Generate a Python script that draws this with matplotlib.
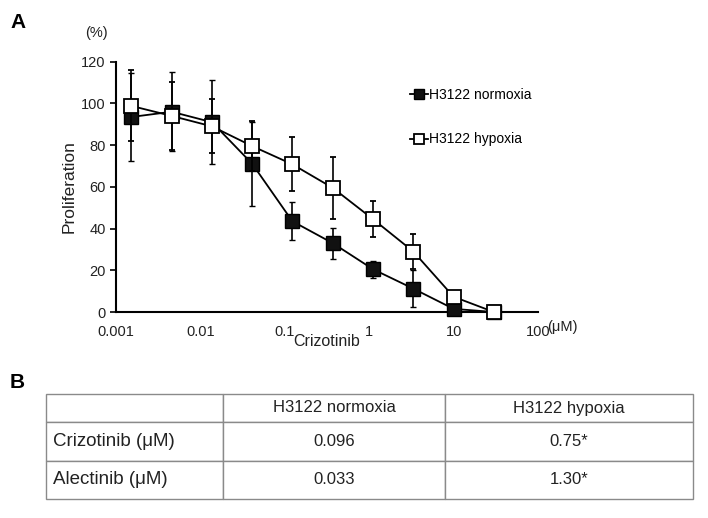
import matplotlib
matplotlib.use('Agg')
import matplotlib.pyplot as plt
from matplotlib.lines import Line2D

plt.rcParams['font.family'] = ['Liberation Sans', 'DejaVu Sans']

# Crizotinib concentrations (uM), 3-fold dilutions
conc = [0.00152, 0.00457, 0.0137, 0.0412, 0.123, 0.370, 1.11, 3.33, 10, 30]
normoxia = [93.5, 96, 91, 71, 43.5, 33, 20.5, 11.2, 1.5, 0]
normoxia_err = [21, 19, 20, 20, 9, 7.5, 4, 9, 1, 0]
hypoxia = [98.8, 94, 89, 79.5, 70.8, 59.5, 44.5, 29, 7.3, 0]
hypoxia_err = [17, 16.5, 13, 12, 13, 15, 8.7, 8.5, 1, 0]

xticks = [0.001, 0.01, 0.1, 1, 10, 100]
xtick_labels = ['0.001', '0.01', '0.1', '1', '10', '100']

# IC50 table
table_header = ['', 'H3122 normoxia', 'H3122 hypoxia']
drugs = ['Crizotinib (μM)', 'Alectinib (μM)']
ic50_normoxia = ['0.096', '0.033']
ic50_hypoxia = ['0.75*', '1.30*']

W, H = 708, 518
fig = plt.figure(figsize=(W / 100, H / 100), dpi=100)
txt_col = '#222222'

# ---- panel A ----
ax = fig.add_axes([116 / W, 1 - 312 / H, (538 - 116) / W, (312 - 61.7) / H])
ax.errorbar(conc, normoxia, yerr=normoxia_err, color='black', lw=1.3,
            marker='s', ms=10.5, mfc='#111111', mec='black', mew=1,
            elinewidth=1.2, capsize=2, capthick=1.2, zorder=3, clip_on=False)
ax.errorbar(conc, hypoxia, yerr=hypoxia_err, color='black', lw=1.3,
            marker='s', ms=10.5, mfc='white', mec='black', mew=1.3,
            elinewidth=1.2, capsize=2, capthick=1.2, zorder=4, clip_on=False)

ax.set_xscale('log')
ax.set_xlim(0.001, 100)
ax.set_ylim(0, 120)
ax.set_xticks(xticks)
ax.set_xticklabels(xtick_labels)
ax.minorticks_off()
ax.set_yticks(range(0, 121, 20))
ax.tick_params(axis='x', length=0, pad=9, labelsize=10.5, labelcolor=txt_col)
ax.tick_params(axis='y', length=4, width=1.2, labelsize=10.5, labelcolor=txt_col)
for s in ['top', 'right']:
    ax.spines[s].set_visible(False)
for s in ['left', 'bottom']:
    ax.spines[s].set_linewidth(1.5)

ax.set_ylabel('Proliferation', fontsize=12.5, color=txt_col, labelpad=3)
ax.set_xlabel('Crizotinib', fontsize=11.5, color=txt_col, labelpad=-3)
fig.text(547 / W, 1 - 327 / H, '(μM)', fontsize=10.5, color=txt_col, va='center', ha='left')
fig.text(96 / W, 1 - 33 / H, '(%)', fontsize=10.5, color=txt_col, va='center', ha='center')

handles = [
    Line2D([], [], color='black', lw=1.3, marker='s', ms=7.5, mfc='#111111', mec='black'),
    Line2D([], [], color='black', lw=1.3, marker='s', ms=7.5, mfc='white', mec='black', mew=1.3),
]
fig.legend(handles, ['H3122 normoxia', 'H3122 hypoxia'], loc='upper left',
           bbox_to_anchor=(403 / W, 1 - 81 / H), frameon=False,
           handlelength=1.3, handletextpad=0.1, labelspacing=2.2, fontsize=10,
           borderpad=0)

fig.text(10 / W, 1 - 22 / H, 'A', fontsize=15, fontweight='bold', va='center')
fig.text(10 / W, 1 - 382 / H, 'B', fontsize=15, fontweight='bold', va='center')

# ---- panel B ----
tax = fig.add_axes([46 / W, 1 - 499 / H, (693 - 46) / W, (499 - 394) / H])
tax.axis('off')
cell_text = [table_header] + [[d, n, h] for d, n, h in zip(drugs, ic50_normoxia, ic50_hypoxia)]
tbl = tax.table(cellText=cell_text, bbox=[0, 0, 1, 1], cellLoc='center')
tbl.auto_set_font_size(False)
col_w = [177, 222, 248]
row_h = [28, 38.5, 38.5]
for (r, c), cell in tbl.get_celld().items():
    cell.set_width(col_w[c] / sum(col_w))
    cell.set_height(row_h[r] / sum(row_h))
    cell.set_edgecolor('#8a8a8a')
    cell.set_linewidth(1.0)
    txt = cell.get_text()
    txt.set_color(txt_col)
    if c == 0 and r > 0:
        txt.set_fontsize(13.5)
        cell.set_text_props(ha='left')
        cell.PAD = 0.04
    else:
        txt.set_fontsize(12)

fig.savefig('out.png', dpi=100)
